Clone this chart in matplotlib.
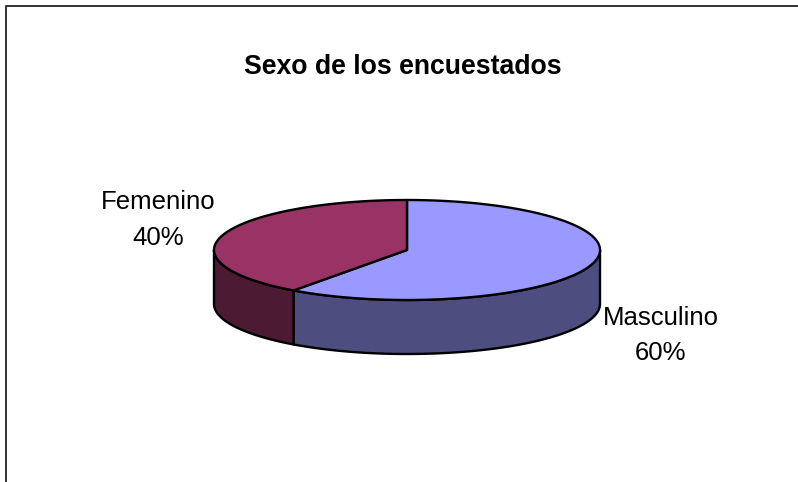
import numpy as np
import matplotlib
matplotlib.use('Agg')
import matplotlib.pyplot as plt
from matplotlib.patches import Polygon

categories = ['Masculino', 'Femenino']
shares = [60, 40]
pct_labels = ['60%', '40%']
top_colors = ['#9999ff', '#993366']
side_colors = ['#4d4d80', '#4d1a33']

plt.rcParams['font.family'] = ['Liberation Sans', 'DejaVu Sans']

# pie geometry in pixels
cx, cy = 407, 250
rx, ry = 193, 50
depth = 54


def rim(t, drop=0):
    # t is clockwise from the top of the pie
    return np.column_stack([cx + rx * np.sin(t), cy - ry * np.cos(t) + drop])


fig = plt.figure(figsize=(7.98, 4.82), dpi=100)
ax = fig.add_axes([0, 0, 1, 1])
ax.set_xlim(0, 798)
ax.set_ylim(482, 0)
ax.axis('off')

# outer frame, only top and left are visible
ax.plot([6, 6, 798], [482, 5.5, 5.5], color='#222222', lw=1.3, solid_capstyle='butt')

edges = np.cumsum([0] + shares) / sum(shares) * 2 * np.pi

# side walls first, only the front half (pi/2 .. 3pi/2) is seen
for i in range(len(shares)):
    a = max(edges[i], np.pi / 2)
    b = min(edges[i + 1], 3 * np.pi / 2)
    t = np.linspace(a, b, 120)
    wall = np.vstack([rim(t), rim(t[::-1], depth)])
    ax.add_patch(Polygon(wall, closed=True, fc=side_colors[i], ec='black', lw=1.7, joinstyle='round'))

# top slices
for i in range(len(shares)):
    t = np.linspace(edges[i], edges[i + 1], 200)
    top = np.vstack([[cx, cy], rim(t)])
    ax.add_patch(Polygon(top, closed=True, fc=top_colors[i], ec='black', lw=1.7, joinstyle='round'))

ax.text(403, 67.5, 'Sexo de los encuestados', ha='center', va='center', fontsize=19.2,
        fontweight='bold', color='black')
ax.text(660.5, 335.5, categories[0] + '\n' + pct_labels[0], ha='center', va='center',
        fontsize=18.5, linespacing=1.6, color='black')
ax.text(158, 220, categories[1] + '\n' + pct_labels[1], ha='center', va='center',
        fontsize=18.5, linespacing=1.6, color='black')

fig.savefig('out.png', dpi=100, facecolor='white')
